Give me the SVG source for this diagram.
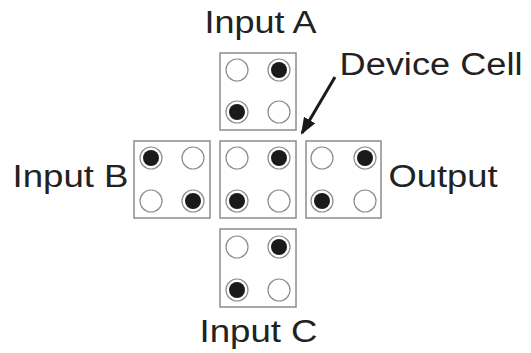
<svg xmlns="http://www.w3.org/2000/svg" xmlns:xlink="http://www.w3.org/1999/xlink" width="531" height="353" viewBox="0 0 531 353">
  <style>
    .box { fill: #ffffff; stroke: #8c8c8c; stroke-width: 1.5; }
    .lbl { font-family: "Liberation Sans", Arial, sans-serif; font-size: 31px; fill: #222222; }
    .ring { fill: #ffffff; stroke: #8c8c8c; stroke-width: 1.2; }
    .dot { fill: #1a1a1a; }
    .conn { stroke: #1a1a1a; stroke-width: 3; fill: none; }
  </style>
  <defs>
    <g id="empty"><circle class="ring" cx="0" cy="0" r="11"/></g>
    <g id="full"><circle class="ring" cx="0" cy="0" r="11"/><circle class="dot" cx="0" cy="0" r="8"/></g>
    <marker id="arrow" markerUnits="userSpaceOnUse" markerWidth="18" markerHeight="14" refX="15" refY="6.5" orient="auto">
      <path d="M0,0 L17,6.5 L0,13 z" fill="#1a1a1a"/>
    </marker>
  </defs>
  <rect width="531" height="353" fill="#ffffff"/>

  <g id="inputA">
    <rect class="box" x="220" y="53" width="76" height="77"/>
    <use href="#empty" x="237" y="70"/>
    <use href="#full" x="279" y="70"/>
    <use href="#full" x="237" y="112"/>
    <use href="#empty" x="279" y="112"/>
  </g>
  <g id="inputB">
    <rect class="box" x="134" y="141" width="76" height="77"/>
    <use href="#full" x="151" y="158"/>
    <use href="#empty" x="193" y="158"/>
    <use href="#empty" x="151" y="201"/>
    <use href="#full" x="193" y="201"/>
  </g>
  <g id="deviceCell">
    <rect class="box" x="220" y="141" width="76" height="77"/>
    <use href="#empty" x="237" y="158"/>
    <use href="#full" x="279" y="158"/>
    <use href="#full" x="237" y="201"/>
    <use href="#empty" x="279" y="201"/>
  </g>
  <g id="output">
    <rect class="box" x="306" y="141" width="75" height="77"/>
    <use href="#empty" x="322" y="158"/>
    <use href="#full" x="365" y="158"/>
    <use href="#full" x="322" y="201"/>
    <use href="#empty" x="365" y="201"/>
  </g>
  <g id="inputC">
    <rect class="box" x="220" y="229" width="76" height="78"/>
    <use href="#empty" x="237" y="247"/>
    <use href="#full" x="279" y="247"/>
    <use href="#full" x="237" y="290"/>
    <use href="#empty" x="279" y="290"/>
  </g>

  <g id="labels">
    <text class="lbl" x="204.5" y="32.5" textLength="112" lengthAdjust="spacingAndGlyphs">Input A</text>
    <text class="lbl" x="339.5" y="75" textLength="183" lengthAdjust="spacingAndGlyphs">Device Cell</text>
    <text class="lbl" x="12.5" y="187" textLength="116" lengthAdjust="spacingAndGlyphs">Input B</text>
    <text class="lbl" x="388.5" y="187" textLength="109" lengthAdjust="spacingAndGlyphs">Output</text>
    <text class="lbl" x="199.5" y="342" textLength="118" lengthAdjust="spacingAndGlyphs">Input C</text>
  </g>

  <g id="connectors">
    <line class="conn" x1="335" y1="77" x2="302" y2="133" marker-end="url(#arrow)"/>
  </g>
</svg>
